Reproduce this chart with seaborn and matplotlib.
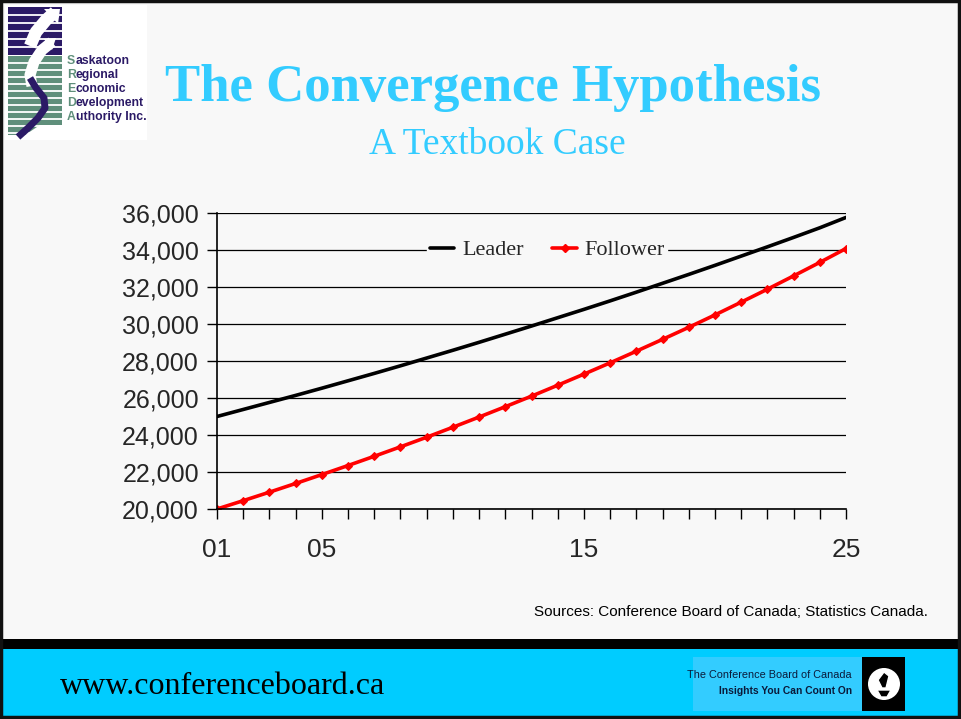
import numpy as np
import pandas as pd
import matplotlib
matplotlib.use("Agg")
import matplotlib.pyplot as plt
import seaborn as sns
from matplotlib.patches import Rectangle, Circle, Polygon
from matplotlib.lines import Line2D

# values
years = list(range(1, 26))
leader = [25000, 25380, 25760, 26140, 26530, 26930, 27330, 27740, 28160, 28580,
          29010, 29450, 29890, 30340, 30790, 31250, 31720, 32200, 32680, 33170,
          33670, 34170, 34680, 35200, 35760]
follower = [20000, 20450, 20910, 21380, 21860, 22350, 22850, 23360, 23880, 24420,
            24970, 25530, 26100, 26690, 27290, 27900, 28530, 29170, 29820, 30490,
            31180, 31880, 32600, 33330, 34080]
xtick_pos = [1, 5, 15, 25]
xtick_labels = ["01", "05", "15", "25"]
yticks = list(range(20000, 36001, 2000))

title = "The Convergence Hypothesis"
subtitle = "A Textbook Case"
source = "Sources: Conference Board of Canada; Statistics Canada."
url = "www.conferenceboard.ca"

BG = "#f8f8f8"
CYAN = "#00ccff"
TITLE_C = "#33ccff"
NAVY = "#2b1a66"
GREEN = "#5f8f7b"

W, H = 961, 719
sns.set_theme(style="white")
plt.rcParams["font.family"] = ["Liberation Sans", "DejaVu Sans"]

fig = plt.figure(figsize=(W / 100, H / 100), dpi=100)
fig.patch.set_facecolor(BG)
renderer = fig.canvas.get_renderer()

# page decoration in pixel coordinates
bg = fig.add_axes([0, 0, 1, 1], zorder=0)
bg.set_xlim(0, W)
bg.set_ylim(H, 0)
bg.axis("off")
bg.add_patch(Rectangle((0, 0), W, H, facecolor=BG, edgecolor="none"))
bg.add_patch(Rectangle((0, 639), W, 10, facecolor="black", edgecolor="none"))
bg.add_patch(Rectangle((0, 649), W, 70, facecolor=CYAN, edgecolor="none"))
bg.add_patch(Rectangle((1, 1), W - 3, H - 3, facecolor="none", edgecolor="#111111", lw=2.5))

# SREDA logo
bg.add_patch(Rectangle((5, 5), 142, 135, facecolor="white", edgecolor="none"))
bg.add_patch(Rectangle((8, 7), 54, 48, facecolor=NAVY, edgecolor="none"))
for y in np.arange(15, 55, 8):
    bg.plot([8, 62], [y, y], color="white", lw=1.3)
bg.add_patch(Polygon([[8, 56], [62, 56], [62, 125], [40, 125], [25, 135], [8, 135]],
                     facecolor=GREEN, edgecolor="none"))
for y in np.arange(63, 135, 7):
    bg.plot([8, 62], [y, y], color="white", lw=1.3)
# white swooshes
bg.plot([55, 46, 36, 30], [12, 20, 32, 46], color="white", lw=9, solid_capstyle="butt")
bg.add_patch(Polygon([[44, 9], [60, 9], [58, 24]], facecolor="white", edgecolor="none"))
bg.plot([52, 42, 34, 30, 32], [42, 50, 62, 75, 86], color="white", lw=8, solid_capstyle="butt")
bg.add_patch(Polygon([[44, 39], [56, 38], [52, 50]], facecolor="white", edgecolor="none"))
# navy ribbon
bg.plot([30, 36, 44, 45, 38, 28, 18], [78, 88, 98, 108, 118, 128, 137],
        color=NAVY, lw=5, solid_capstyle="butt")
words = ["Saskatoon", "Regional", "Economic", "Development", "Authority Inc."]
for i, wd in enumerate(words):
    y = 61 + i * 14
    first = bg.text(67, y, wd[0], color=GREEN, fontsize=8.8, fontweight="bold",
                    va="center", ha="left")
    ext = first.get_window_extent(renderer=renderer)
    bg.text(67 + ext.width, y, wd[1:], color=NAVY, fontsize=8.8, fontweight="bold",
            va="center", ha="left")

# titles
bg.text(493, 88, title, color=TITLE_C, fontsize=38, fontweight="bold",
        family="Liberation Serif", ha="center", va="center")
bg.text(497, 145, subtitle, color=TITLE_C, fontsize=27,
        family="Liberation Serif", ha="center", va="center")
bg.text(928, 612, source, color="black", fontsize=11, ha="right", va="center")
bg.text(60, 686, url, color="black", fontsize=23, family="Liberation Serif",
        ha="left", va="center")

# Conference Board logo
bg.add_patch(Rectangle((693, 657), 169, 54, facecolor="#33ccff", edgecolor="none"))
bg.add_patch(Rectangle((862, 657), 43, 54, facecolor="black", edgecolor="none"))
bg.add_patch(Circle((884, 684), 16, facecolor="white", edgecolor="none"))
bg.add_patch(Polygon([[877, 690], [891, 690], [887, 697], [881, 697]], facecolor="black"))
bg.add_patch(Polygon([[882, 688], [878, 680], [884, 672], [889, 676], [886, 688]], facecolor="black"))
bg.text(852, 675, "The Conference Board of Canada", color="#0a1a3a", fontsize=7.8,
        ha="right", va="center")
bg.text(852, 691, "Insights You Can Count On", color="#0a1a3a", fontsize=7.4,
        fontweight="bold", ha="right", va="center")

# chart
ax = fig.add_axes([217 / W, 1 - 509 / H, (846 - 217) / W, (509 - 213) / H], zorder=2)
ax.set_facecolor("none")
df = pd.DataFrame({"year": years + years,
                   "value": leader + follower,
                   "series": ["Leader"] * len(years) + ["Follower"] * len(years)})
sns.lineplot(data=df[df.series == "Leader"], x="year", y="value", color="black",
             lw=2.6, ax=ax, legend=False)
sns.lineplot(data=df[df.series == "Follower"], x="year", y="value", color="#ff0000",
             lw=2.6, marker="D", markersize=4, markeredgecolor="#ff0000", ax=ax, legend=False)

ax.set_xlim(1, 25)
ax.set_ylim(20000, 36000)
ax.set_yticks(yticks)
ax.set_yticklabels([f"{v:,}" for v in yticks], fontsize=18)
ax.set_xticks(xtick_pos)
ax.set_xticklabels(xtick_labels, fontsize=19)
ax.set_xticks(years, minor=True)
ax.tick_params(axis="x", which="both", direction="out", length=7, width=1, color="black",
               bottom=True, pad=14)
ax.tick_params(axis="y", direction="out", length=7, width=1, color="black", left=True, pad=6)
ax.yaxis.grid(True, color="black", lw=0.9)
ax.set_axisbelow(True)
for s in ["top", "right"]:
    ax.spines[s].set_visible(False)
for s in ["left", "bottom"]:
    ax.spines[s].set_color("black")
    ax.spines[s].set_linewidth(1.2)
ax.set_xlabel("")
ax.set_ylabel("")

handles = [Line2D([], [], color="black", lw=2.6),
           Line2D([], [], color="#ff0000", lw=2.6, marker="D", markersize=4)]
leg = ax.legend(handles, ["Leader", "Follower"], loc="center", ncol=2,
                bbox_to_anchor=(0.525, 0.875), frameon=True, facecolor=BG, edgecolor=BG,
                framealpha=1, prop={"family": "Liberation Serif", "size": 16},
                handlelength=1.1, columnspacing=1.3, handletextpad=0.35,
                borderpad=0.1, fancybox=False)

fig.savefig("out.png", dpi=100, facecolor=BG)
